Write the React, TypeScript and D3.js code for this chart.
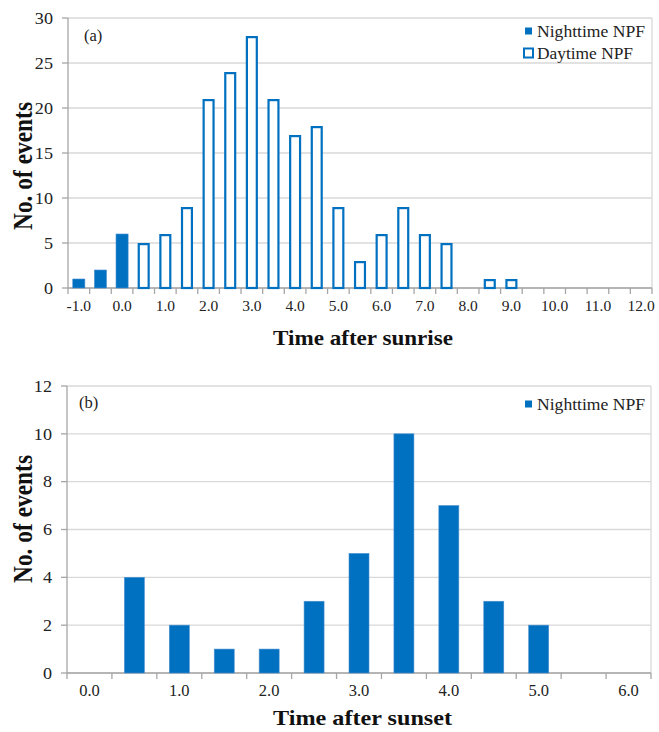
import React, { useLayoutEffect } from "react";
import * as d3 from "d3";

const catsA = ["-1.0","-0.5","0.0","0.5","1.0","1.5","2.0","2.5","3.0","3.5","4.0","4.5","5.0","5.5","6.0","6.5","7.0","7.5","8.0","8.5","9.0","9.5","10.0","10.5","11.0","11.5","12.0"];
const nightA = [1,2,6,0,0,0,0,0,0,0,0,0,0,0,0,0,0,0,0,0,0,0,0,0,0,0,0];
const dayA = [0,0,0,5,6,9,21,24,28,21,17,18,9,3,6,9,6,5,0,1,1,0,0,0,0,0,0];
const ticksA = [0,5,10,15,20,25,30];

const catsB = ["0.0","0.5","1.0","1.5","2.0","2.5","3.0","3.5","4.0","4.5","5.0","5.5","6.0"];
const nightB = [0,4,2,1,1,3,5,10,7,3,2,0,0];
const ticksB = [0,2,4,6,8,10,12];

const BLUE = "#0070C0";
const GRID = "#d9d9d9";
const AXIS = "#a6a6a6";
const FONT = "Liberation Serif, serif";

function Panel({ cats, series, yMax, yTicks, top, bottom, left, right, barFrac, label, legend, xTitle, yTitleCenter, labelPos, xFs }) {
  const x = d3.scaleBand().domain(cats).range([left, right]).padding(0);
  const y = d3.scaleLinear().domain([0, yMax]).range([bottom, top]);
  const bw = x.bandwidth();
  const w = bw * barFrac;
  const boundaries = cats.map((c) => x(c)).concat([right]);
  return (
    <g>
      {yTicks.map((t) => (
        <line key={"g" + t} x1={left} x2={right} y1={y(t)} y2={y(t)} stroke={GRID} strokeWidth={1.3} />
      ))}
      <line x1={right} x2={right} y1={top} y2={bottom} stroke={GRID} strokeWidth={1.3} />
      <line x1={left} x2={left} y1={top} y2={bottom} stroke={AXIS} strokeWidth={1.3} />
      <line x1={left} x2={right} y1={bottom} y2={bottom} stroke={AXIS} strokeWidth={1.3} />
      {yTicks.map((t) => (
        <g key={"t" + t}>
          <line x1={left - 6} x2={left} y1={y(t)} y2={y(t)} stroke={AXIS} strokeWidth={1.3} />
          <text x={left - 15} y={y(t)} dy="0.35em" textAnchor="end" fontSize={16.5} fontFamily={FONT} fill="#222" transform={`translate(${left - 15},0) scale(1.1,1) translate(${-(left - 15)},0)`}>{t}</text>
        </g>
      ))}
      {boundaries.map((b, i) => (
        <line key={"b" + i} x1={b} x2={b} y1={bottom} y2={bottom + 6} stroke={AXIS} strokeWidth={1.3} />
      ))}
      {cats.map((c, i) => i % 2 === 0 ? (
        <text key={"l" + c} x={x(c) + bw / 2} y={bottom + 23} textAnchor="middle" fontSize={xFs} fontFamily={FONT} fill="#222">{c}</text>
      ) : null)}
      {series.map((s, si) => cats.map((c, i) => {
        const v = s.values[i];
        if (!v) return null;
        const cx = x(c) + bw / 2;
        if (s.filled) {
          return <rect key={si + "-" + c} x={cx - w / 2} y={y(v)} width={w} height={bottom - y(v)} fill={BLUE} stroke="#4a90d0" strokeWidth={0.6} />;
        }
        const sw = 2.2;
        return <rect key={si + "-" + c} x={cx - w / 2 + sw / 2} y={y(v) + sw / 2} width={w - sw} height={bottom - y(v) - sw / 2} fill="#fff" stroke={BLUE} strokeWidth={sw} />;
      }))}
      <text x={labelPos[0]} y={labelPos[1]} fontSize={16.5} fontFamily={FONT} fill="#222">{label}</text>
      {legend.map((l, i) => (
        <g key={"lg" + i}>
          {l.filled
            ? <rect x={525} y={l.y - 3.5} width={7} height={7} fill={BLUE} />
            : <rect x={524} y={l.y - 4.5} width={9} height={9} fill="#fff" stroke={BLUE} strokeWidth={2} />}
          <text x={537} y={l.y} dy="0.35em" fontSize={17} fontFamily={FONT} fill="#222" textLength={l.w} lengthAdjust="spacingAndGlyphs">{l.text}</text>
        </g>
      ))}
      <text x={(xTitle.x0 + xTitle.x1) / 2} y={xTitle.y} textAnchor="middle" fontSize={21} fontWeight="bold" fontFamily={FONT} fill="#111" textLength={xTitle.x1 - xTitle.x0} lengthAdjust="spacingAndGlyphs">{xTitle.text}</text>
      <text transform={`translate(32,${yTitleCenter}) rotate(-90) scale(1,1.2)`} textAnchor="middle" fontSize={23} fontWeight="bold" fontFamily={FONT} fill="#111" textLength={128} lengthAdjust="spacingAndGlyphs">No. of events</text>
    </g>
  );
}

export default function App() {
  useLayoutEffect(() => {
    document.body.style.margin = "0";
  }, []);
  return (
    <svg width={659} height={732} style={{ display: "block", background: "#fff" }}>
      <Panel
        cats={catsA}
        series={[{ values: nightA, filled: true }, { values: dayA, filled: false }]}
        yMax={30}
        yTicks={ticksA}
        top={18}
        bottom={288}
        left={68}
        right={652}
        barFrac={0.56}
        label="(a)"
        labelPos={[84, 41]}
        legend={[{ text: "Nighttime NPF", filled: true, y: 31, w: 108 }, { text: "Daytime NPF", filled: false, y: 53, w: 96 }]}
        xTitle={{ text: "Time after sunrise", x0: 273, x1: 453, y: 345 }}
        yTitleCenter={166}
        xFs={15.5}
      />
      <Panel
        cats={catsB}
        series={[{ values: nightB, filled: true }]}
        yMax={12}
        yTicks={ticksB}
        top={386}
        bottom={673}
        left={67}
        right={651}
        barFrac={0.445}
        label="(b)"
        labelPos={[79, 408]}
        legend={[{ text: "Nighttime NPF", filled: true, y: 404, w: 108 }]}
        xTitle={{ text: "Time after sunset", x0: 273, x1: 452, y: 725 }}
        yTitleCenter={519}
        xFs={16.5}
      />
    </svg>
  );
}
